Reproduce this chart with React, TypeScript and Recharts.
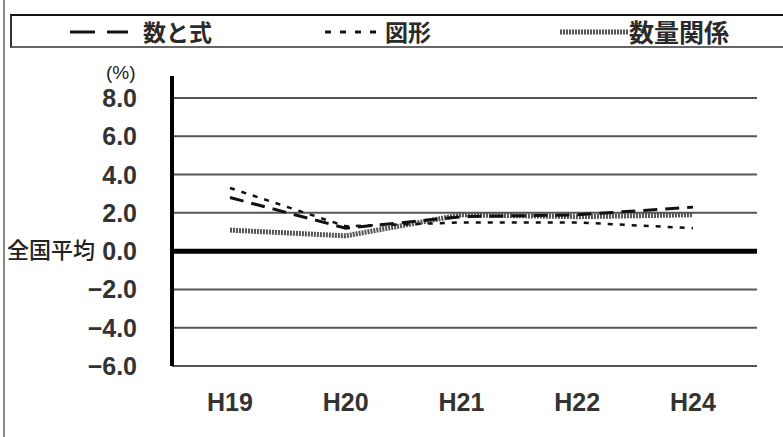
import React from "react";
import {
  LineChart,
  Line,
  XAxis,
  YAxis,
  CartesianGrid,
  ReferenceLine,
  Legend,
} from "recharts";

// Survey years (Heisei) on the category axis
const years = ["H19", "H20", "H21", "H22", "H24"];

// Difference from the national average (percentage points)
const kazuToShiki = [2.8, 1.2, 1.8, 1.9, 2.3];
const zukei = [3.3, 1.3, 1.5, 1.5, 1.2];
const suryoKankei = [1.1, 0.8, 1.9, 1.8, 1.9];

const yTicks = [-6, -4, -2, 0, 2, 4, 6, 8];

const seriesNames = ["数と式", "図形", "数量関係"];

const data = years.map((year, i) => ({
  year,
  [seriesNames[0]]: kazuToShiki[i],
  [seriesNames[1]]: zukei[i],
  [seriesNames[2]]: suryoKankei[i],
}));

const FONT = "'Liberation Sans', Arial, sans-serif";
const JP_FONT = "'Noto Sans CJK JP', sans-serif";

const LegendBox = () => (
  <div
    style={{
      position: "absolute",
      left: 10,
      top: 14,
      width: 790,
      height: 34,
      borderTop: "2px solid #111",
      borderBottom: "2px solid #666",
      borderLeft: "2px solid #333",
      boxSizing: "border-box",
      fontFamily: JP_FONT,
      fontSize: 23,
      fontWeight: 700,
      color: "#2a2a2a",
      lineHeight: "30px",
    }}
  >
    <svg width={790} height={30} style={{ position: "absolute", left: -12, top: 0 }}>
      <line x1={70} y1={16} x2={128} y2={16} stroke="#111" strokeWidth={3} strokeDasharray="25 12" />
      <line x1={325} y1={16} x2={383} y2={16} stroke="#111" strokeWidth={3} strokeDasharray="6 9" />
      <line x1={560} y1={16} x2={628} y2={16} stroke="#555" strokeWidth={5} strokeDasharray="2 1" />
    </svg>
    <span style={{ position: "absolute", left: 131, top: 0 }}>{seriesNames[0]}</span>
    <span style={{ position: "absolute", left: 373, top: 0 }}>{seriesNames[1]}</span>
    <span style={{ position: "absolute", left: 617, top: 0, fontSize: 25 }}>{seriesNames[2]}</span>
  </div>
);

const YTick = (props: any) => {
  const { x, y, payload } = props;
  const v = payload.value as number;
  const label = v < 0 ? `−${Math.abs(v).toFixed(1)}` : v.toFixed(1);
  return (
    <g>
      <text
        x={x}
        y={y}
        dy={9}
        textAnchor="end"
        fontFamily={FONT}
        fontSize={25}
        fontWeight={700}
        fill="#333"
      >
        {label}
      </text>
      {v === 0 && (
        <text
          x={x - 42}
          y={y}
          dy={7}
          textAnchor="end"
          fontFamily={JP_FONT}
          fontSize={22}
          fontWeight={500}
          fill="#222"
        >
          全国平均
        </text>
      )}
    </g>
  );
};

export default function App() {
  return (
    <div
      style={{
        position: "absolute",
        left: 0,
        top: 0,
        width: 783,
        height: 437,
        background: "#fff",
        overflow: "hidden",
      }}
    >
      <div
        style={{
          position: "absolute",
          left: 3,
          top: 0,
          width: 2,
          height: 437,
          background: "#888",
        }}
      />
      <LineChart
        width={783}
        height={437}
        data={data}
        margin={{ top: 76, right: 26, bottom: 41, left: 0 }}
      >
        <CartesianGrid
          vertical={false}
          horizontalValues={yTicks}
          stroke="#555"
          strokeWidth={2}
        />
        <XAxis
          dataKey="year"
          axisLine={false}
          tickLine={false}
          tickSize={0}
          tickMargin={27}
          height={30}
          padding={{ left: 58, right: 64 }}
          tick={{ fontFamily: FONT, fontSize: 25, fontWeight: 700, fill: "#333" }}
        />
        <YAxis
          width={172}
          domain={[-6, 9.15]}
          ticks={yTicks}
          allowDataOverflow
          tickLine={false}
          tickSize={0}
          tickMargin={35}
          axisLine={{ stroke: "#000", strokeWidth: 4 }}
          tick={<YTick />}
        />
        <ReferenceLine y={0} stroke="#000" strokeWidth={5} />
        <Legend content={() => <LegendBox />} wrapperStyle={{ position: "absolute", left: 0, top: 0 }} />
        <Line
          dataKey={seriesNames[2]}
          stroke="#555"
          strokeWidth={5}
          strokeDasharray="2 1"
          dot={false}
          isAnimationActive={false}
        />
        <Line
          dataKey={seriesNames[0]}
          stroke="#111"
          strokeWidth={3}
          strokeDasharray="14 8"
          dot={false}
          isAnimationActive={false}
        />
        <Line
          dataKey={seriesNames[1]}
          stroke="#111"
          strokeWidth={2.5}
          strokeDasharray="5 7"
          dot={false}
          isAnimationActive={false}
        />
      </LineChart>
      <div
        style={{
          position: "absolute",
          left: 106,
          top: 62,
          fontFamily: FONT,
          fontSize: 19,
          color: "#222",
        }}
      >
        (%)
      </div>
    </div>
  );
}
